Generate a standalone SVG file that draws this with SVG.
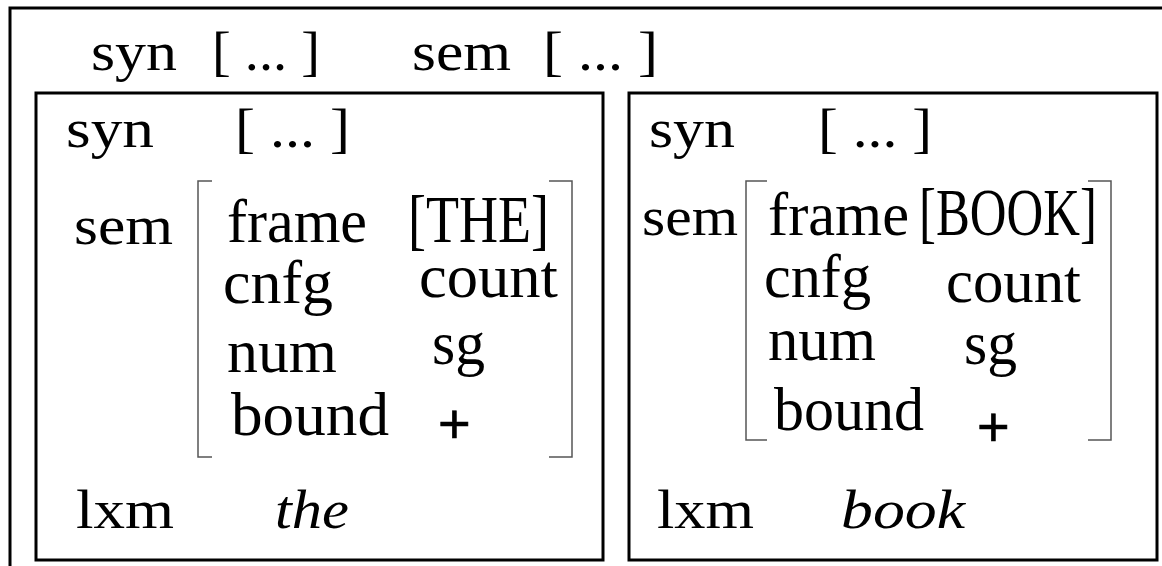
<svg xmlns="http://www.w3.org/2000/svg" width="1162" height="566" viewBox="0 0 1162 566">
  <style>
    .box { fill: none; stroke: #000; stroke-width: 3; }
    .brk { fill: none; stroke: #555; stroke-width: 1.5; }
    text { font-family: "Liberation Serif", "Times New Roman", serif; font-size: 55px; fill: #000; }
    .av { font-size: 62px; }
    .caps { font-size: 67px; }
    .it { font-style: italic; }
    .plus { font-family: "Liberation Sans", Arial, sans-serif; font-size: 56px; stroke: #000; stroke-width: 0.6; }
  </style>
  <rect width="1162" height="566" fill="#fff"/>

  <!-- outer phrase structure -->
  <g id="phrase">
    <rect class="box" x="10" y="8" width="1170" height="600"/>
    <text x="91" y="70" textLength="86" lengthAdjust="spacingAndGlyphs">syn</text>
    <text x="212" y="70" textLength="108" lengthAdjust="spacingAndGlyphs">[ ... ]</text>
    <text x="412" y="70" textLength="99" lengthAdjust="spacingAndGlyphs">sem</text>
    <text x="543" y="70" textLength="115" lengthAdjust="spacingAndGlyphs">[ ... ]</text>
  </g>

  <!-- determiner: the -->
  <g id="word-the">
    <rect class="box" x="36" y="93" width="567" height="467"/>
    <text x="66" y="147" textLength="88" lengthAdjust="spacingAndGlyphs">syn</text>
    <text x="235" y="147" textLength="115" lengthAdjust="spacingAndGlyphs">[ ... ]</text>
    <text x="74" y="244" textLength="99" lengthAdjust="spacingAndGlyphs">sem</text>
    <path class="brk" d="M212,181 H198 V457 H212"/>
    <path class="brk" d="M549,181 H572 V457 H549"/>
    <text class="av" x="227" y="242" textLength="140" lengthAdjust="spacingAndGlyphs">frame</text>
    <text class="caps" x="408" y="242" textLength="141" lengthAdjust="spacingAndGlyphs">[THE]</text>
    <text class="av" x="223" y="303" textLength="110" lengthAdjust="spacingAndGlyphs">cnfg</text>
    <text class="av" x="419" y="297" textLength="139" lengthAdjust="spacingAndGlyphs">count</text>
    <text class="av" x="227" y="372" textLength="110" lengthAdjust="spacingAndGlyphs">num</text>
    <text class="av" x="432" y="364" textLength="53" lengthAdjust="spacingAndGlyphs">sg</text>
    <text class="av" x="231" y="435" textLength="158" lengthAdjust="spacingAndGlyphs">bound</text>
    <text class="plus" x="438" y="443">+</text>
    <text x="76" y="528" textLength="98" lengthAdjust="spacingAndGlyphs">lxm</text>
    <text class="it" x="275" y="528" textLength="74" lengthAdjust="spacingAndGlyphs">the</text>
  </g>

  <!-- noun: book -->
  <g id="word-book">
    <rect class="box" x="629" y="93" width="528" height="467"/>
    <text x="649" y="147" textLength="86" lengthAdjust="spacingAndGlyphs">syn</text>
    <text x="818" y="147" textLength="114" lengthAdjust="spacingAndGlyphs">[ ... ]</text>
    <text x="642" y="235" textLength="96" lengthAdjust="spacingAndGlyphs">sem</text>
    <path class="brk" d="M767,181 H746 V440 H767"/>
    <path class="brk" d="M1088,181 H1111 V440 H1088"/>
    <text class="av" x="768" y="235" textLength="141" lengthAdjust="spacingAndGlyphs">frame</text>
    <text class="caps" x="919" y="235" textLength="178" lengthAdjust="spacingAndGlyphs">[BOOK]</text>
    <text class="av" x="764" y="297" textLength="107" lengthAdjust="spacingAndGlyphs">cnfg</text>
    <text class="av" x="946" y="302" textLength="135" lengthAdjust="spacingAndGlyphs">count</text>
    <text class="av" x="768" y="360" textLength="108" lengthAdjust="spacingAndGlyphs">num</text>
    <text class="av" x="964" y="364" textLength="53" lengthAdjust="spacingAndGlyphs">sg</text>
    <text class="av" x="774" y="430" textLength="150" lengthAdjust="spacingAndGlyphs">bound</text>
    <text class="plus" x="977" y="446">+</text>
    <text x="657" y="528" textLength="97" lengthAdjust="spacingAndGlyphs">lxm</text>
    <text class="it" x="841" y="528" textLength="124" lengthAdjust="spacingAndGlyphs">book</text>
  </g>
</svg>
